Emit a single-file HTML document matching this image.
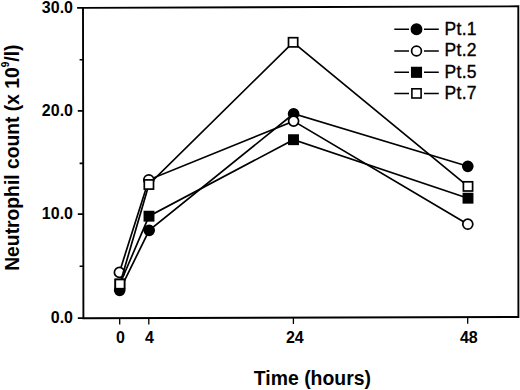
<!DOCTYPE html>
<html><head><meta charset="utf-8"><style>
html,body{margin:0;padding:0;background:#fff;width:520px;height:390px;overflow:hidden}
svg{display:block}
text{font-family:"Liberation Sans",sans-serif;fill:#000}
.b{font-weight:bold}
</style></head><body>
<svg width="520" height="390" viewBox="0 0 520 390">
<rect x="0" y="0" width="520" height="390" fill="#fff"/>
<!-- frame -->
<g stroke="#000" stroke-width="1.9" fill="none" stroke-linecap="square">
<path d="M83,7.9 L518.3,6.3 L518.4,317 L83.4,318.2 Z"/>
<!-- y ticks major -->
<path d="M77.1,7.9 H83 M77.8,110.9 H83 M77.8,214.1 H83 M77.8,318.1 H83.4" stroke-linecap="butt"/>
<!-- y ticks minor -->
<path d="M79.6,59.7 H83 M79.6,163.4 H83 M79.6,266.3 H83" stroke-linecap="butt" stroke-width="1.6"/>
<!-- x ticks -->
<path d="M119.7,318 V324.4 M148.8,318 V324.4 M293.4,317.6 V324 M467.7,317.2 V323.7" stroke-width="1.3" stroke-linecap="butt"/>
</g>
<!-- y tick labels -->
<g class="b" font-size="16" text-anchor="end" font-weight="bold">
<text x="73" y="12.6">30.0</text>
<text x="73" y="116">20.0</text>
<text x="73" y="219.2">10.0</text>
<text x="73" y="322.8">0.0</text>
</g>
<!-- x tick labels -->
<g font-size="16" text-anchor="middle" font-weight="bold">
<text x="120.5" y="342.5">0</text>
<text x="149.4" y="342.5">4</text>
<text x="294.8" y="342.5">24</text>
<text x="468.8" y="342.5">48</text>
</g>
<!-- axis titles -->
<text x="312.4" y="384.6" font-size="19.4" font-weight="bold" text-anchor="middle">Time (hours)</text>
<text transform="translate(18.7,270.8) rotate(-90)" font-size="19.3" font-weight="bold">Neutrophil count (x 10<tspan font-size="10" dy="-9.5">9</tspan><tspan dy="9.5">/l)</tspan></text>

<!-- series -->
<g stroke="#000" stroke-width="1.7" fill="none">
<polyline points="119.7,290.3 149.2,230.3 293.6,113.8 467.8,166.3"/>
<g fill="#000"><circle cx="119.7" cy="290.3" r="5.0"/><circle cx="149.2" cy="230.3" r="5.0"/><circle cx="293.6" cy="113.8" r="5.0"/><circle cx="467.8" cy="166.3" r="5.0"/></g>
<polyline points="119.4,272.4 148.8,179.8 293.6,121.1 467.8,224.2"/>
<g fill="#fff"><circle cx="119.4" cy="272.4" r="5.0"/><circle cx="148.8" cy="179.8" r="5.0"/><circle cx="293.6" cy="121.1" r="5.0"/><circle cx="467.8" cy="224.2" r="5.0"/></g>
<polyline points="119.9,284.0 149.0,216.2 293.5,139.7 468.0,198.2"/>
<g fill="#000"><rect x="115.30" y="279.40" width="9.2" height="9.2"/><rect x="144.40" y="211.60" width="9.2" height="9.2"/><rect x="288.90" y="135.10" width="9.2" height="9.2"/><rect x="463.40" y="193.60" width="9.2" height="9.2"/></g>
<polyline points="119.9,284.1 148.9,184.5 293.1,42.3 468.0,186.4"/>
<g fill="#fff"><rect x="115.30" y="279.50" width="9.2" height="9.2"/><rect x="144.30" y="179.90" width="9.2" height="9.2"/><rect x="288.50" y="37.70" width="9.2" height="9.2"/><rect x="463.40" y="181.80" width="9.2" height="9.2"/></g>
</g>

<!-- legend -->
<g stroke="#000" stroke-width="1.5">
<path d="M394.3,29.3 H409 M424,29.3 H438.8 M394.3,51 H409 M424,51 H438.8 M394.3,72.3 H409 M424,72.3 H438.8 M394.3,93.5 H409 M424,93.5 H438.8"/>
<circle cx="416.5" cy="29.3" r="5.2" fill="#000"/>
<circle cx="416.5" cy="51" r="4.9" fill="#fff" stroke-width="1.7"/>
<rect x="411.7" y="67.5" width="9.6" height="9.6" fill="#000"/>
<rect x="411.9" y="88.8" width="9.2" height="9.2" fill="#fff" stroke-width="1.6"/>
</g>
<g font-size="17.5" letter-spacing="0.3" stroke="#000" stroke-width="0.35">
<text x="444.5" y="34.8">Pt.1</text>
<text x="444.5" y="56.4">Pt.2</text>
<text x="444.5" y="77.6">Pt.5</text>
<text x="444.5" y="98.9">Pt.7</text>
</g>
</svg>
</body></html>
